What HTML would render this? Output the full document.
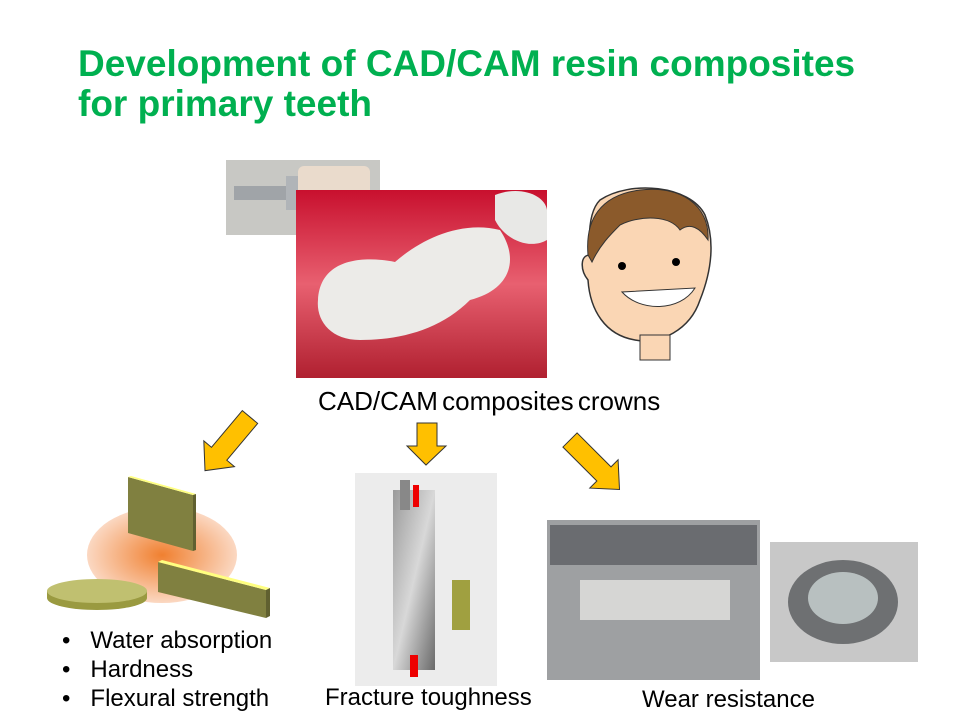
<!DOCTYPE html>
<html><head><meta charset="utf-8"><style>
body{margin:0;width:960px;height:720px;background:#fff;position:relative;overflow:hidden;font-family:"Liberation Sans",sans-serif}
.t{position:absolute;color:#00b050;font-weight:bold;font-size:37px;left:78px;line-height:40px;top:44px;white-space:nowrap}
.l{position:absolute;font-size:24px;color:#000;white-space:nowrap}
</style></head><body>
<div class="t">Development of CAD/CAM resin composites<br>for primary teeth</div>
<svg width="960" height="720" style="position:absolute;left:0;top:0">
<defs>
<radialGradient id="g"><stop offset="0" stop-color="#f08030"/><stop offset="1" stop-color="#fbd8c2"/></radialGradient>
<linearGradient id="pk" x1="0" y1="0" x2="0" y2="1"><stop offset="0" stop-color="#c8102e"/><stop offset="0.5" stop-color="#e86070"/><stop offset="1" stop-color="#b02030"/></linearGradient>
<linearGradient id="gr" x1="0" y1="0" x2="1" y2="1"><stop offset="0" stop-color="#9a9a9a"/><stop offset="0.5" stop-color="#d8d8d8"/><stop offset="1" stop-color="#6a6a6a"/></linearGradient>
</defs>
<rect x="226" y="160" width="154" height="75" fill="#c8c8c4"/>
<rect x="234" y="186" width="60" height="14" fill="#a0a4a8"/>
<rect x="286" y="176" width="14" height="34" fill="#b0b4b8"/>
<rect x="298" y="166" width="72" height="64" rx="6" fill="#eadbcc"/>
<rect x="296" y="190" width="251" height="188" fill="url(#pk)"/>
<path d="M318 300 C320 260 360 255 395 262 C420 240 460 220 500 230 C520 260 510 290 470 300 C440 330 400 340 360 340 C330 340 316 320 318 300Z" fill="#ecebe8"/>
<path d="M495 195 C520 185 545 195 547 210 L547 240 C530 250 505 240 495 220Z" fill="#e8e8e6"/>
<path d="M600 200 C630 180 690 185 705 215 C715 240 712 270 700 300 C690 330 660 345 635 340 C605 335 590 310 588 280 C580 270 580 255 590 255 C588 230 590 210 600 200Z" fill="#fad6b4" stroke="#333" stroke-width="1.5"/>
<path d="M588 255 C585 220 600 195 640 190 C680 185 710 205 708 240 C700 228 690 222 680 230 C670 215 640 215 620 225 C610 235 600 245 592 262Z" fill="#8b5a2b" stroke="#333"/>
<rect x="640" y="335" width="30" height="25" fill="#fad6b4" stroke="#333"/>
<path d="M622 292 C640 312 680 312 695 288 Z" fill="#fff" stroke="#333"/>
<circle cx="622" cy="266" r="4"/><circle cx="676" cy="262" r="4"/>
<ellipse cx="162" cy="555" rx="75" ry="48" fill="url(#g)"/>
<polygon points="128,477 193,495 193,551 128,533" fill="#808040"/>
<polygon points="128,477 131,476 196,494 193,495" fill="#ffff80"/>
<polygon points="193,495 196,494 196,550 193,551" fill="#606030"/>
<polygon points="158,562 266,590 266,618 158,592" fill="#808040"/>
<polygon points="158,562 162,560 270,588 266,590" fill="#ffff80"/>
<polygon points="266,590 270,588 270,616 266,618" fill="#606030"/>
<path d="M47 591 v7 a50 12 0 0 0 100 0 v-7" fill="#9a9a40"/>
<ellipse cx="97" cy="591" rx="50" ry="12" fill="#c0c070"/>
<g fill="#ffc000" stroke="#333" stroke-width="1">
<polygon points="417,423 437,423 437,446 446,446 426,465 407,446 417,446"/>
<g transform="translate(570,440) rotate(-45)"><polygon points="-10,0 10,0 10,48 20,48 0,70 -20,48 -10,48"/></g>
<g transform="translate(250,417) rotate(40)"><polygon points="-10,0 10,0 10,48 20,48 0,70 -20,48 -10,48"/></g>
</g>
<rect x="355" y="473" width="142" height="213" fill="#ececec"/>
<rect x="393" y="490" width="42" height="180" fill="url(#gr)"/>
<rect x="400" y="480" width="10" height="30" fill="#888"/>
<rect x="413" y="485" width="6" height="22" fill="#e00"/>
<rect x="410" y="655" width="8" height="22" fill="#e00"/>
<rect x="452" y="580" width="18" height="50" fill="#a0a040"/>
<rect x="547" y="520" width="213" height="160" fill="#9ea0a2"/>
<rect x="550" y="525" width="207" height="40" fill="#6a6c70"/>
<rect x="580" y="580" width="150" height="40" fill="#d6d6d4"/>
<rect x="770" y="542" width="148" height="120" fill="#c8c8c8"/>
<ellipse cx="843" cy="602" rx="55" ry="42" fill="#6e7072"/>
<ellipse cx="843" cy="598" rx="35" ry="26" fill="#b8c0c0"/>
</svg>
<div class="l" style="left:318px;top:386px;font-size:26px;word-spacing:-3px">CAD/CAM composites crowns</div>
<div class="l" style="left:62px;top:626px;line-height:29px">•&nbsp;&nbsp;&nbsp;Water absorption<br>•&nbsp;&nbsp;&nbsp;Hardness<br>•&nbsp;&nbsp;&nbsp;Flexural strength</div>
<div class="l" style="left:325px;top:684px">Fracture toughness</div>
<div class="l" style="left:642px;top:686px">Wear resistance</div>
</body></html>
